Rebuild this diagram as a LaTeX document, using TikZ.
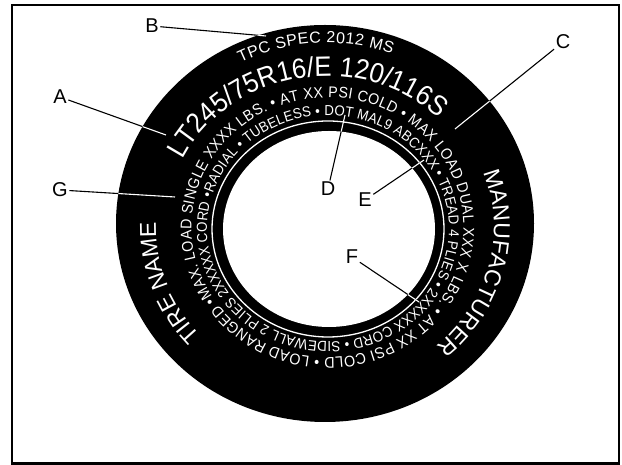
\documentclass[tikz,border=0pt]{standalone}
\usepackage{fontspec}
\setmainfont{Liberation Sans}
\newfontfamily\narrowsans[FakeStretch=0.92]{Liberation Sans}
\usetikzlibrary{decorations.text}
\begin{document}
\begin{tikzpicture}[x=1pt,y=1pt,
  lbl/.style={font=\fontsize{20}{20}\selectfont, inner sep=1.5pt},
  leader/.style={line width=1.1pt},
  ringtext/.style={decorate, decoration={text along path, text color=white, text align={fit to path}}},
  arctext/.style={decorate, decoration={text along path, text color=white, text align=center}},
]
\useasboundingbox (0,0) rectangle (622,465);
\draw[line width=2.5pt] (12,460) rectangle (619,1.5);
% tire body
\fill[black] (325,241.5) ellipse [x radius=209, y radius=198.5];
\fill[white] (329,236) ellipse [x radius=106, y radius=98];
\draw[white, line width=1.3pt] (328,236) ellipse [x radius=116, y radius=108];

% outer top small text
\path[ringtext, decoration={text={|\fontsize{16}{16}\selectfont|TPC SPEC 2012 MS}}]
  (327,242) ++(117:190 and 180) arc[start angle=117, end angle=70, x radius=190, y radius=180];

% size line
\path[arctext, decoration={text={|\narrowsans\fontsize{28}{28}\selectfont|LT245/75R16/E 120/116S}}]
  (327,239) ++(160:161 and 150) arc[start angle=160, end angle=40, x radius=161, y radius=150];

% ring 3
\path[ringtext, decoration={text={|\narrowsans\fontsize{15.5}{15.5}\selectfont|MAX. LOAD SINGLE XXXX LBS. • AT XX PSI COLD • MAX LOAD DUAL XXX X LBS. • AT XX PSI COLD • LOAD RANGED •}}]
  (327.5,237.5) ++(212:136 and 130) arc[start angle=212, end angle=-147.5, x radius=136, y radius=130];

% ring 4
\path[ringtext, decoration={text={|\narrowsans\fontsize{14.5}{14.5}\selectfont|RADIAL • TUBELESS • DOT MAL9 ABCXXX • TREAD 4 PLIES • 2XXXXX CORD • SIDEWALL 2 PLIES 2XXXXX CORD •}}]
  (328,236.5) ++(162:121 and 113) arc[start angle=162, end angle=-197.5, x radius=121, y radius=113];

% tire name / manufacturer
\path[arctext, decoration={text={|\fontsize{23}{23}\selectfont|TIRE NAME}}]
  (327,238) ++(240:171 and 161) arc[start angle=240, end angle=160, x radius=171, y radius=161];
\path[arctext, decoration={text={|\fontsize{23}{23}\selectfont|MANUFACTURER}}]
  (327,238) ++(25:167 and 157) arc[start angle=25, end angle=-54, x radius=167, y radius=157];

% labels
\node[lbl] (A) at (60,368) {A};
\node[lbl] (B) at (152,439) {B};
\node[lbl] (C) at (563,423) {C};
\node[lbl] (D) at (328,276) {D};
\node[lbl] (E) at (365,265) {E};
\node[lbl] (F) at (352,208) {F};
\node[lbl] (G) at (60,275) {G};
\coordinate (a1) at (166,330);
\coordinate (b1) at (266,429);
\coordinate (c1) at (455,336);
\coordinate (d1) at (345,350);
\coordinate (e1) at (424,305);
\coordinate (f1) at (419,163);
\coordinate (g1) at (175,268);
\foreach \n/\m in {A/a1,B/b1,C/c1,D/d1,E/e1,F/f1,G/g1}{\draw[leader] (\n) -- (\m);}
\begin{scope}[even odd rule]
\clip (325,241.5) ellipse [x radius=209, y radius=198.5] (329,236) ellipse [x radius=106, y radius=98];
\foreach \n/\m in {A/a1,B/b1,C/c1,D/d1,E/e1,F/f1,G/g1}{\draw[leader, white] (\n) -- (\m);}
\end{scope}
\end{tikzpicture}
\end{document}
